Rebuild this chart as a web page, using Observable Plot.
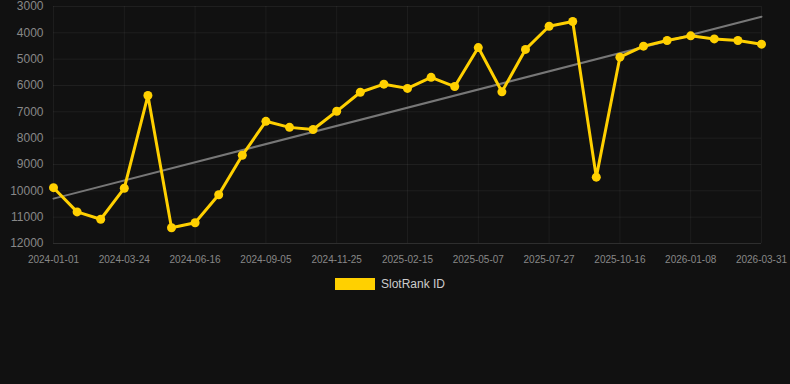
<!DOCTYPE html>
<html>
<head>
<meta charset="utf-8">
<script src="https://cdn.jsdelivr.net/npm/d3@7"></script>
<script src="https://cdn.jsdelivr.net/npm/@observablehq/plot@0.6"></script>
<style>
  html, body { margin: 0; padding: 0; background: #111111; }
  #chart svg { display: block; }
  #legend { display: flex; justify-content: center; align-items: center; gap: 6px; height: 12px; margin-top: 10px;
            padding-right: 10px;
            font-family: "Liberation Sans", Arial, sans-serif; font-size: 12px; color: #cccccc; }
  #legend .sw { width: 40px; height: 12px; background: #FFD000; }
</style>
</head>
<body>
<div id="chart"></div>
<div id="legend"><span class="sw"></span><span>SlotRank ID</span></div>
<script>
// Dates of the 31 observations (labelled ones read from axis; others estimated)
const dates = [
  "2024-01-01","2024-01-28","2024-02-25","2024-03-24","2024-04-21","2024-05-19","2024-06-16",
  "2024-07-13","2024-08-09","2024-09-05","2024-10-02","2024-10-29","2024-11-25","2024-12-22",
  "2025-01-19","2025-02-15","2025-03-14","2025-04-10","2025-05-07","2025-06-03","2025-06-30",
  "2025-07-27","2025-08-23","2025-09-19","2025-10-16","2025-11-12","2025-12-10","2026-01-08",
  "2026-02-04","2026-03-03","2026-03-31"
];
// SlotRank ID values
const ranks = [
  9880, 10800, 11080, 9900, 6380, 11400, 11210, 10150, 8650, 7360, 7590,
  7670, 6980, 6255, 5950, 6110, 5690, 6040, 4560, 6240, 4630, 3750,
  3570, 9480, 4925, 4505, 4290, 4115, 4230, 4290, 4430
];
const xTickIndex = [0, 3, 6, 9, 12, 15, 18, 21, 24, 27, 30];
const yTicks = [3000, 4000, 5000, 6000, 7000, 8000, 9000, 10000, 11000, 12000];

const data = ranks.map((v, i) => ({ i, date: dates[i], v }));

const chart = Plot.plot({
  width: 790,
  height: 268,
  marginLeft: 53,
  marginRight: 29,
  marginTop: 6,
  marginBottom: 25,
  style: { background: "#111111", color: "#888888", fontFamily: "'Liberation Sans', Arial, sans-serif", fontSize: "10px" },
  x: { type: "linear", domain: [0, dates.length - 1], label: null },
  y: { domain: [3000, 12000], reverse: true, label: null },
  marks: [
    Plot.gridY(yTicks, { stroke: "#ffffff", strokeOpacity: 0.06 }),
    Plot.gridX(xTickIndex, { stroke: "#ffffff", strokeOpacity: 0.05 }),
    Plot.ruleY([12000], { stroke: "#2e2e2e" }),
    Plot.axisY(yTicks, { tickSize: 0, tickPadding: 10, fontSize: 12, tickFormat: d => String(d), fill: "#888888", label: null }),
    Plot.axisX(xTickIndex, { tickSize: 0, tickPadding: 12, fontSize: 10, tickFormat: i => dates[i], fill: "#888888", label: null }),
    Plot.linearRegressionY(data, { x: "i", y: "v", stroke: "#777777", strokeWidth: 2, ci: 0 }),
    Plot.line(data, { x: "i", y: "v", stroke: "#FFD000", strokeWidth: 3, strokeLinejoin: "miter" }),
    Plot.dot(data, { x: "i", y: "v", fill: "#FFD000", r: 4.5 })
  ]
});
document.getElementById("chart").appendChild(chart);
</script>
</body>
</html>
